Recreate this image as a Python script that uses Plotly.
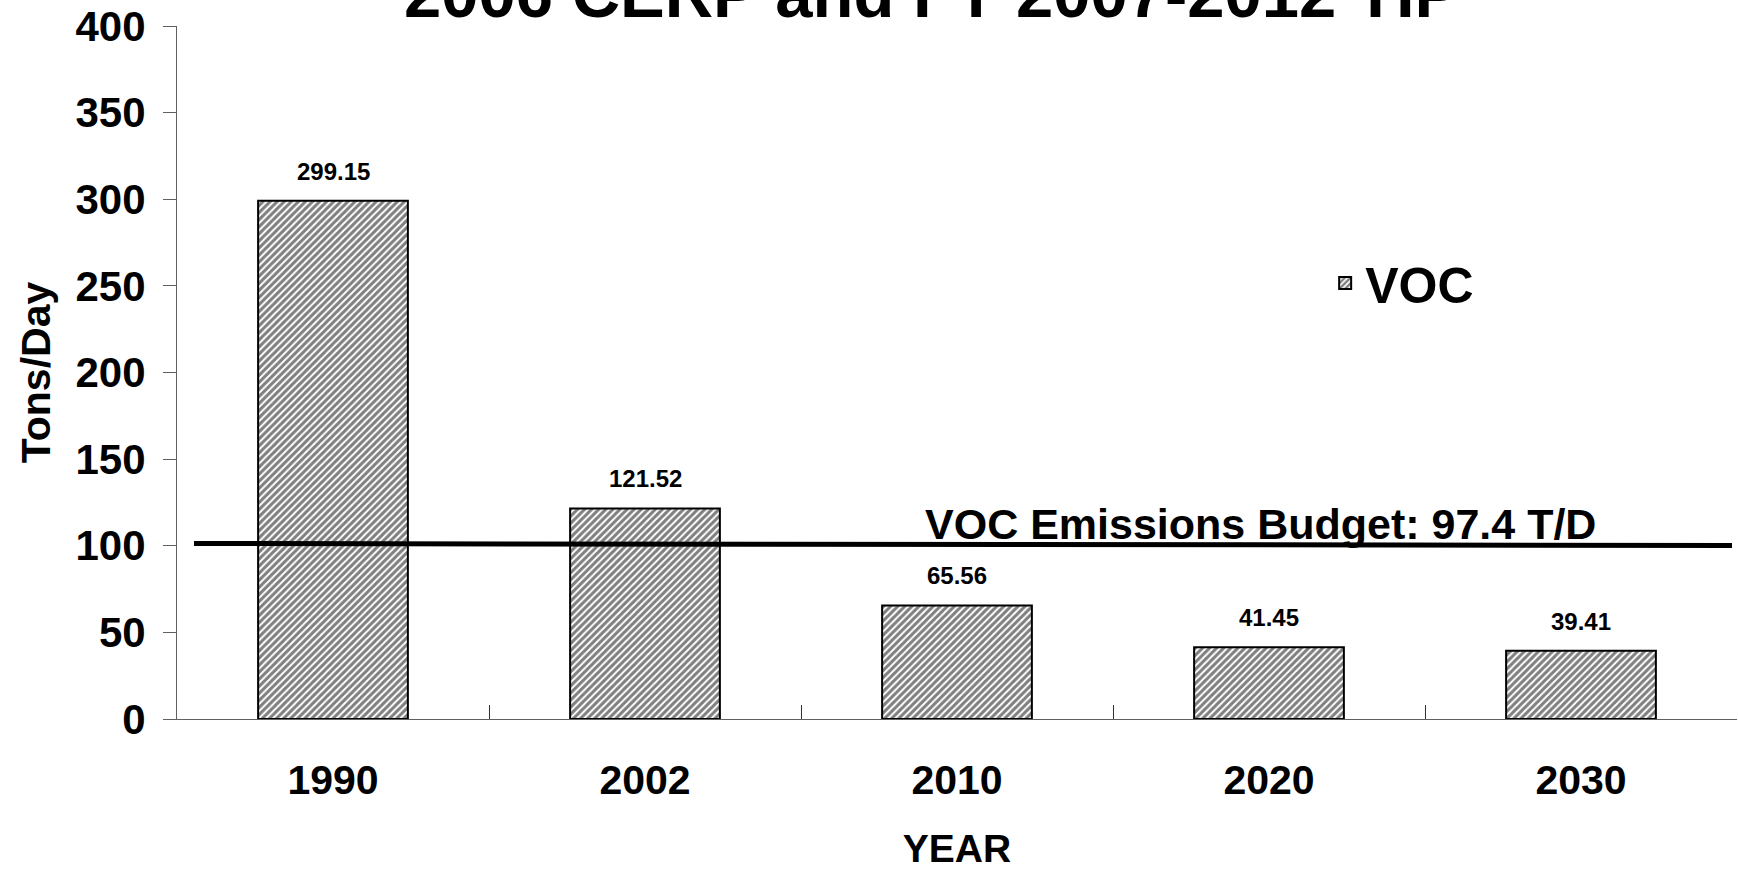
import plotly.graph_objects as go

# ---- data ----
years = ["1990", "2002", "2010", "2020", "2030"]
voc_tons_per_day = [299.15, 121.52, 65.56, 41.45, 39.41]
voc_labels = ["299.15", "121.52", "65.56", "41.45", "39.41"]
series_name = "VOC"
y_ticks = [0, 50, 100, 150, 200, 250, 300, 350, 400]
budget_line_level = [101.3, 100.2]   # drawn level of the budget line (start, end)
budget_text = "VOC Emissions Budget: 97.4 T/D"
title_text = "2006 CERP and FY 2007-2012 TIP"
x_title = "YEAR"
y_title = "Tons/Day"

FONT = "Liberation Sans, Arial, Helvetica, sans-serif"

fig = go.Figure()
fig.add_trace(go.Bar(
    x=years, y=voc_tons_per_day, name=series_name,
    marker=dict(
        color="white",
        line=dict(color="black", width=2),
        pattern=dict(shape="/", size=5, solidity=0.6, fgcolor="black", bgcolor="white"),
    ),
    showlegend=True,
))

annotations = []
# data labels (category axis: position by category index)
for i, (v, lab) in enumerate(zip(voc_tons_per_day, voc_labels)):
    annotations.append(dict(
        x=i, y=v, xref="x", yref="y", text=lab, showarrow=False,
        yanchor="bottom", yshift=14,
        font=dict(family=FONT, size=24, color="black", weight="bold"),
    ))
# budget label
annotations.append(dict(
    x=0.478, y=112.7, xref="paper", yref="y", text=budget_text, showarrow=False,
    xanchor="left", yanchor="middle",
    font=dict(family=FONT, size=43, color="black", weight="bold"),
))
# clipped title at the top
annotations.append(dict(
    x=0.4835, y=1.0476, xref="paper", yref="paper", text=title_text, showarrow=False,
    xanchor="center", yanchor="middle",
    font=dict(family=FONT, size=67, color="black", weight="bold"),
))

fig.add_shape(
    type="line", xref="paper", yref="y",
    x0=0.0109, x1=0.9968, y0=budget_line_level[0], y1=budget_line_level[1],
    line=dict(color="black", width=5),
)

fig.update_layout(
    width=1738, height=871,
    margin=dict(l=177, r=1, t=26, b=152, autoexpand=False),
    paper_bgcolor="white", plot_bgcolor="white",
    bargap=0.52,
    font=dict(family=FONT, color="black"),
    annotations=annotations,
    legend=dict(
        x=0.736, y=0.629, xanchor="left", yanchor="middle",
        font=dict(family=FONT, size=50, color="black", weight="bold"),
        bgcolor="rgba(0,0,0,0)",
    ),
    xaxis=dict(
        type="category", range=[-0.5, 4.5], showline=True, linecolor="#606060", linewidth=1,
        ticks="inside", ticklen=14, tickcolor="#333333", tickson="boundaries",
        showgrid=False, zeroline=False, tickangle=0,
        tickfont=dict(family=FONT, size=41, color="black", weight="bold"),
        ticklabelstandoff=25,
        title=dict(text=x_title, standoff=32,
                   font=dict(family=FONT, size=39, color="black", weight="bold")),
    ),
    yaxis=dict(
        range=[0, 400], tickvals=y_ticks, showline=True, linecolor="#606060", linewidth=1,
        ticks="outside", ticklen=13, tickcolor="#606060",
        showgrid=False, zeroline=False,
        tickfont=dict(family=FONT, size=42, color="black", weight="bold"),
        ticklabelstandoff=9,
        title=dict(text=y_title, standoff=12,
                   font=dict(family=FONT, size=41, color="black", weight="bold")),
    ),
)

fig.write_html("out.html", config={"displayModeBar": False},
               post_script="document.body.style.margin='0';")
